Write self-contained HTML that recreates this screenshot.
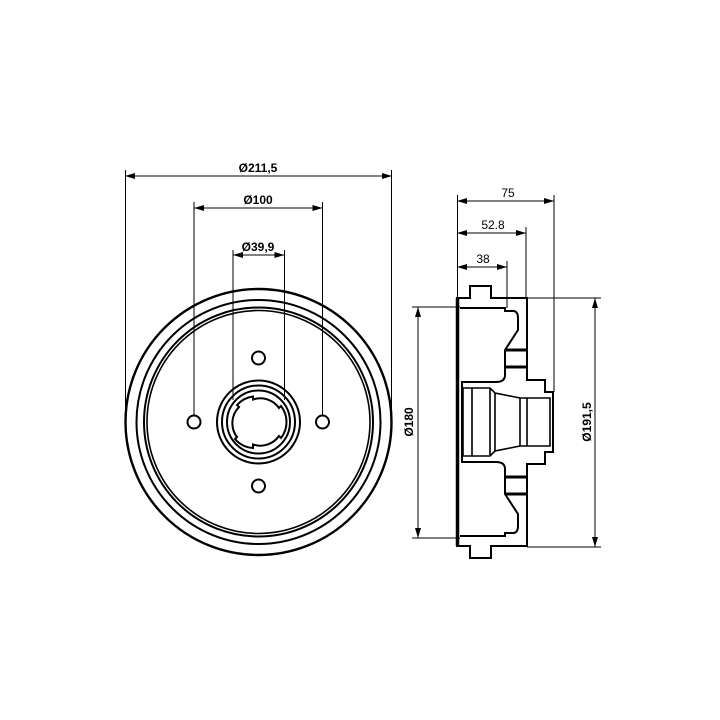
<!DOCTYPE html>
<html><head><meta charset="utf-8"><style>html,body{margin:0;background:#fff}svg{display:block}</style></head>
<body>
<svg width="720" height="720" viewBox="0 0 720 720" xmlns="http://www.w3.org/2000/svg" font-family="Liberation Sans, Arial, sans-serif">
<defs>
<marker id="a" viewBox="0 0 10 6" refX="10" refY="3" markerWidth="10" markerHeight="6" orient="auto-start-reverse" markerUnits="userSpaceOnUse"><path d="M0,0 L10,3 L0,6z" fill="#000"/></marker>
</defs>
<g stroke="#000" fill="none">
<!-- front view -->
<circle cx="258.5" cy="422" r="133" stroke-width="2.4"/>
<circle cx="258.5" cy="422" r="122" stroke-width="2"/>
<circle cx="258.5" cy="422" r="114.5" stroke-width="2"/>
<circle cx="258.5" cy="422" r="111.5" stroke-width="1.6"/>
<circle cx="258.5" cy="358" r="6.5" stroke-width="2"/>
<circle cx="258.5" cy="486" r="6.5" stroke-width="2"/>
<circle cx="194" cy="422" r="6.5" stroke-width="2"/>
<circle cx="322.5" cy="422" r="6.5" stroke-width="2"/>
<circle cx="258.5" cy="422" r="41.5" stroke-width="2"/>
<circle cx="258.5" cy="422" r="36.5" stroke-width="2"/>
<circle cx="258.5" cy="422" r="31.5" stroke-width="2"/>
<path d="M253,396.5 A26,26 0 0 0 237,405 L239,407 A23,23 0 0 0 237,437 L235,439 A26,26 0 0 0 253,448 L253,444.5 A23,23 0 0 0 279,436 L281,438 A26,26 0 0 0 281,406 L279,408 A23,23 0 0 0 253,399.5 Z" stroke-width="2"/>
<!-- front dims -->
<g stroke-width="1">
<line x1="125" y1="176" x2="392" y2="176" marker-start="url(#a)" marker-end="url(#a)"/>
<line x1="125.5" y1="170" x2="125.5" y2="422"/>
<line x1="391.5" y1="170" x2="391.5" y2="422"/>
<line x1="194" y1="208" x2="322.5" y2="208" marker-start="url(#a)" marker-end="url(#a)"/>
<line x1="194" y1="202" x2="194" y2="415"/>
<line x1="322.5" y1="202" x2="322.5" y2="415"/>
<line x1="233" y1="255" x2="284.5" y2="255" marker-start="url(#a)" marker-end="url(#a)"/>
<line x1="233" y1="250" x2="233" y2="400"/>
<line x1="284.5" y1="250" x2="284.5" y2="400"/>
</g>
<!-- side view -->
<g stroke-width="2">
<path d="M457,298 H470 V286 H491 V298 H527 V380 H545 V392 H553 V452 H545 V464 H527 V546 H491 V558 H470 V546 H457 Z"/>
<line x1="457.5" y1="298" x2="457.5" y2="546" stroke-width="3.5"/>
<path d="M460,308 H505 V311 H514 Q518,312 518,318 V330 L505,350 V375 Q505,382 496,382 H462 V462 H496 Q505,462 505,469 V494 L518,514 V526 Q518,532 514,533 H505 V536 H460"/>
<path d="M505,350 H527 M505,367 H527 M505,477 H527 M505,494 H527" stroke-width="3"/>
<path d="M463,388 H472 V456 H463 Z" stroke-width="1.6"/>
<path d="M472,388 H490 L495,393 L520,398 H550 V446 H520 L495,451 L490,456 H472" stroke-width="1.6"/>
<path d="M490,389 V455 M495,393 V451 M520,398 V446 M527,398 V446" stroke-width="1.6"/>
</g>
<g stroke-width="1">
<line x1="457" y1="201" x2="554" y2="201" marker-start="url(#a)" marker-end="url(#a)"/>
<line x1="457" y1="233" x2="526" y2="233" marker-start="url(#a)" marker-end="url(#a)"/>
<line x1="457" y1="267" x2="507" y2="267" marker-start="url(#a)" marker-end="url(#a)"/>
<line x1="457.5" y1="195" x2="457.5" y2="298"/>
<line x1="554" y1="195" x2="554" y2="392"/>
<line x1="526" y1="227" x2="526" y2="298"/>
<line x1="507" y1="261" x2="507" y2="308"/>
<line x1="418" y1="307" x2="418" y2="538" marker-start="url(#a)" marker-end="url(#a)"/>
<line x1="412" y1="307" x2="460" y2="307"/>
<line x1="412" y1="538" x2="460" y2="538"/>
<line x1="595" y1="298" x2="595" y2="547" marker-start="url(#a)" marker-end="url(#a)"/>
<line x1="527" y1="298" x2="601" y2="298"/>
<line x1="527" y1="547" x2="601" y2="547"/>
</g>
</g>
<g font-size="12" fill="#000" text-anchor="middle">
<text x="258" y="172" font-weight="bold">Ø211,5</text>
<text x="258" y="204" font-weight="bold">Ø100</text>
<text x="258" y="251" font-weight="bold">Ø39,9</text>
<text x="508" y="197">75</text>
<text x="493" y="229">52.8</text>
<text x="483" y="263">38</text>
<text transform="translate(413,422) rotate(-90)" font-weight="bold">Ø180</text>
<text transform="translate(591,422) rotate(-90)" font-weight="bold">Ø191,5</text>
</g>
</svg>
</body></html>
